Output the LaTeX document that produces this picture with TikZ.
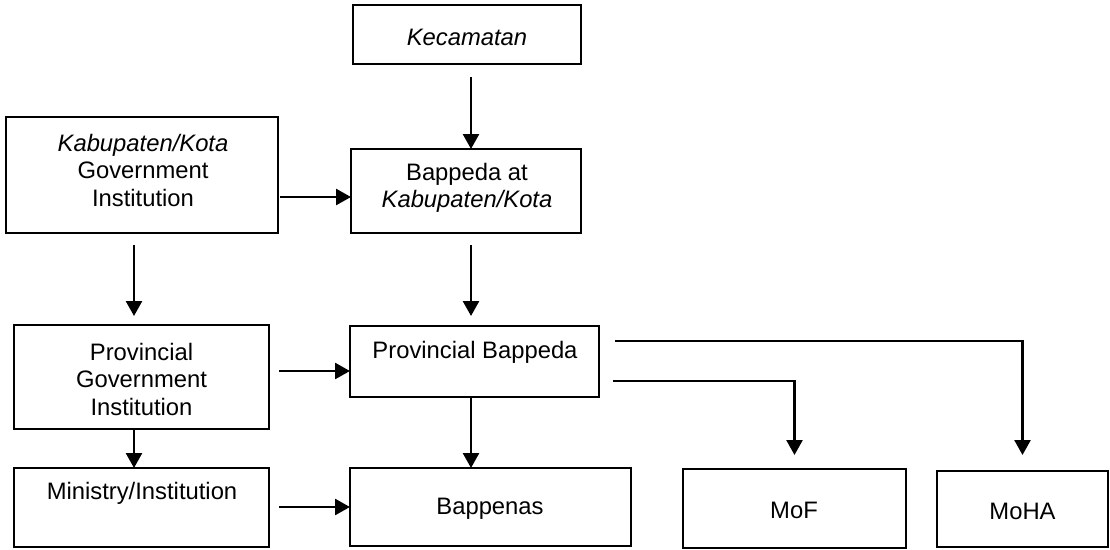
\documentclass[tikz,border=0pt]{standalone}
\usepackage{fontspec}
\setmainfont{Liberation Sans}
\usetikzlibrary{arrows.meta}
\begin{document}
\begin{tikzpicture}[x=1pt,y=-1pt,
  box/.style={draw=black, line width=1.9pt, outer sep=0pt, inner sep=0pt},
  txt/.style={align=center, inner sep=0pt, font=\fontsize{23.8}{27.5}\selectfont},
  arr/.style={line width=2.6pt, -{Triangle[length=15pt,width=16pt]}}]
\useasboundingbox (0,0) rectangle (1110,549);
% boxes
\node[box, minimum width=228pt, minimum height=59pt] (kec) at (467,34.5) {};
\node[box, minimum width=272pt, minimum height=116pt] (kab) at (142,175) {};
\node[box, minimum width=230pt, minimum height=84pt] (bapk) at (466,191) {};
\node[box, minimum width=255pt, minimum height=104pt] (provgov) at (141.5,377) {};
\node[box, minimum width=249pt, minimum height=71pt] (provbap) at (474.5,361.5) {};
\node[box, minimum width=255pt, minimum height=79pt] (min) at (141.5,507.5) {};
\node[box, minimum width=281pt, minimum height=78pt] (bappenas) at (490.5,507) {};
\node[box, minimum width=223pt, minimum height=79pt] (mof) at (794.5,508.5) {};
\node[box, minimum width=171pt, minimum height=76pt] (moha) at (1022.5,509) {};
% texts
\node[txt] (tkec) at (467,37) {\itshape Kecamatan};
\node[txt] (tkab) at (143,170) {\itshape Kabupaten/Kota\\Government\\Institution};
\node[txt] (tbapk) at (467,188) {Bappeda at\\\itshape Kabupaten/Kota};
\node[txt] (tprovgov) at (141.5,379) {Provincial\\Government\\Institution};
\node[txt] (tprovbap) at (475,352) {Provincial Bappeda};
\node[txt] (tmin) at (142,493) {Ministry/Institution};
\node[txt] (tbappenas) at (490,509) {Bappenas};
\node[txt] (tmof) at (794,510) {MoF};
\node[txt] (tmoha) at (1022.5,511) {MoHA};
% arrows
\draw[arr] ([xshift=4pt,yshift=-13pt]kec.south) -- ([xshift=5pt]bapk.north);
\draw[arr] ([xshift=2pt,yshift=-22pt]kab.east) coordinate (a1) -- (a1 -| bapk.west);
\draw[arr] ([xshift=-8pt,yshift=-12pt]kab.south) -- ([xshift=-7.5pt,yshift=9pt]provgov.north);
\draw[arr] ([xshift=5pt,yshift=-12pt]bapk.south) -- ([xshift=-3.5pt,yshift=10pt]provbap.north);
\draw[arr] ([xshift=10pt,yshift=6pt]provgov.east) coordinate (a2) -- (a2 -| provbap.west);
\draw[arr] ([xshift=-7.5pt]provgov.south) -- ([xshift=-7.5pt]min.north);
\draw[arr] ([xshift=-3.5pt]provbap.south) coordinate (a3) -- (a3 |- bappenas.north);
\draw[arr] ([xshift=10pt,yshift=0.5pt]min.east) coordinate (a4) -- (a4 -| bappenas.west);
\draw[arr] ([xshift=16pt,yshift=20.5pt]provbap.east) -| ([yshift=16pt]moha.north);
\draw[arr] ([xshift=14pt,yshift=-19.5pt]provbap.east) -| ([yshift=14pt]mof.north);
\end{tikzpicture}
\end{document}
